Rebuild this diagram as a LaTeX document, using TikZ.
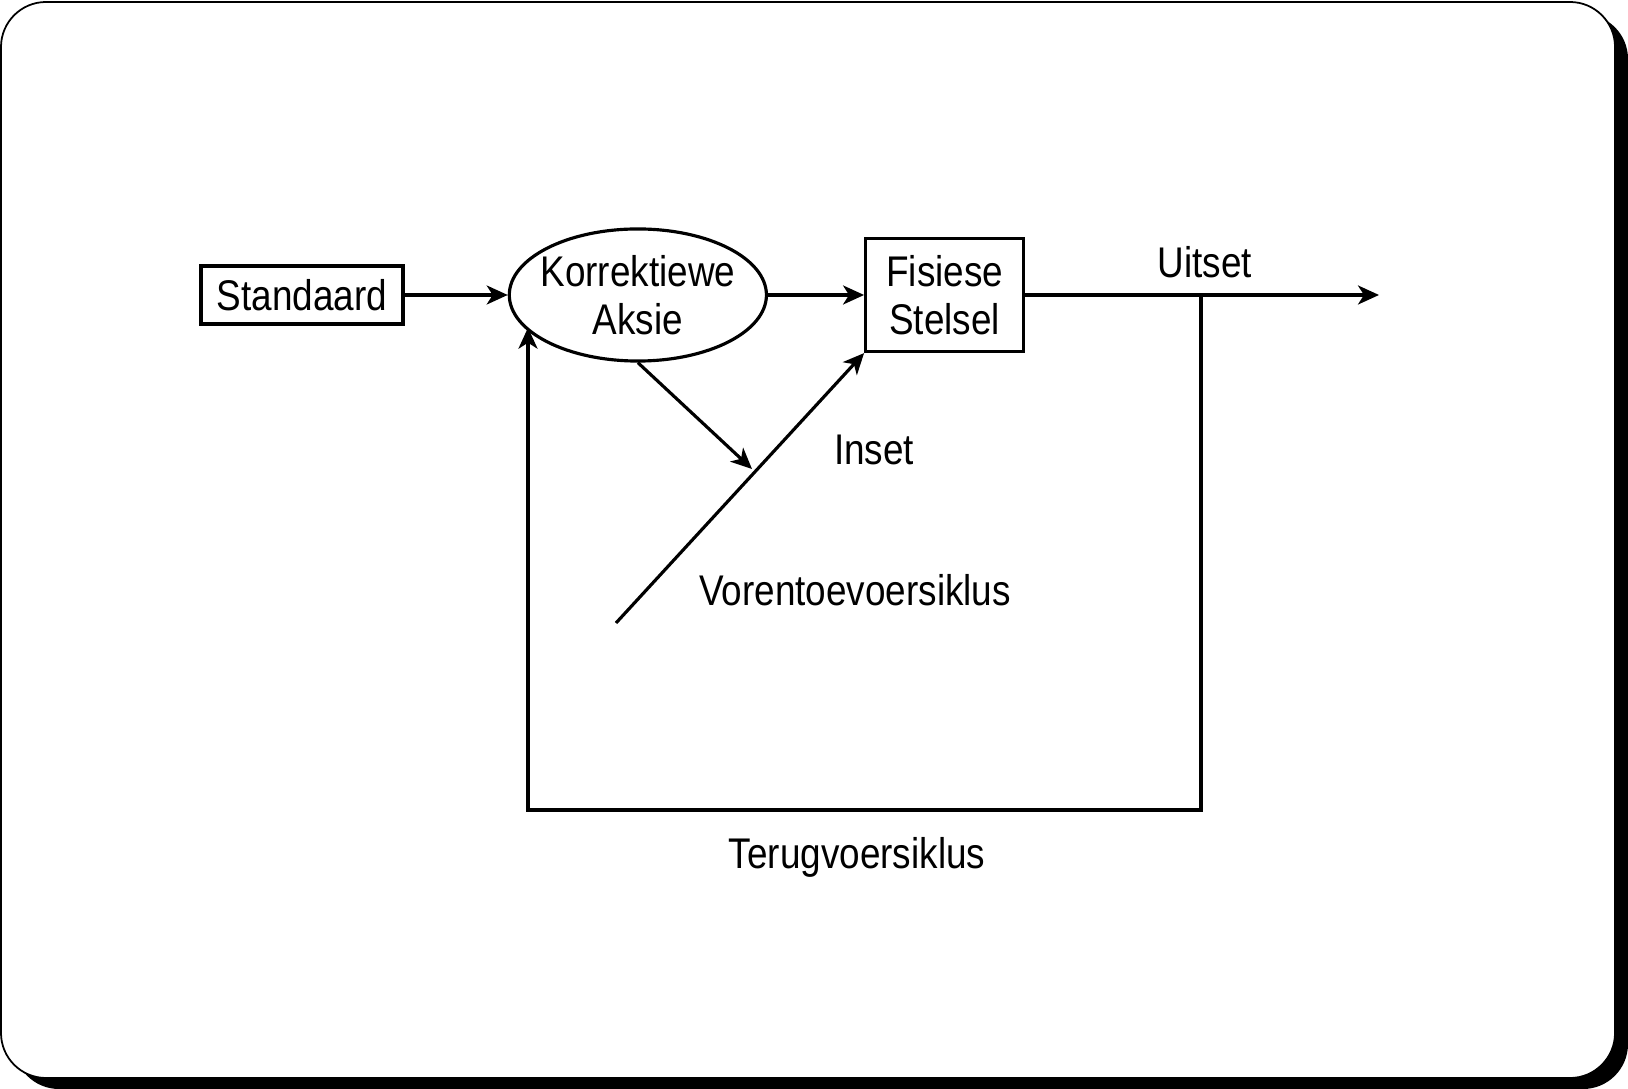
\documentclass[tikz,border=0pt]{standalone}
\usepackage{fontspec}
\setmainfont{Liberation Sans}[FakeStretch=0.86]
\usetikzlibrary{positioning,arrows.meta}
\usetikzlibrary{shapes.geometric}

\begin{document}
\begin{tikzpicture}[x=0.01cm,y=-0.01cm,node distance=1cm,>={Stealth[length=2.1mm,width=1.9mm,inset=0.6mm]},
  every node/.style={font=\fontsize{12.2}{13.8}\selectfont},
  every path/.style={line width=0.9pt},
  blok/.style={draw,inner sep=0pt,align=center}]
  \useasboundingbox (0,0) rectangle (1628,1089);
  % raam
  \fill[black,rounded corners=0.45cm] (14,14) rectangle (1628,1089);
  \filldraw[fill=white,draw=black,line width=0.5pt,rounded corners=0.45cm] (1,2) rectangle (1615,1078);

  \node[blok,minimum width=2.02cm,minimum height=0.58cm] (std) at (302,295) {Standaard};
  \node[blok,ellipse,inner xsep=-0.08cm,inner ysep=0pt,minimum width=2.57cm,minimum height=1.32cm,right=1.03cm of std] (kor) {Korrektiewe\\Aksie};
  \node[blok,minimum width=1.58cm,minimum height=1.13cm,right=0.96cm of kor] (fis) {Fisiese\\Stelsel};
  \coordinate (uit) at (1379,295);
  \coordinate (tap) at (1201,295);
  \coordinate (fbc) at (528,810);
  \coordinate (voor) at (616,623);
  \coordinate (ins) at (752,469);

  \draw[->] (std) -- (kor);
  \draw[->] (kor) -- (fis);
  \draw[->] (fis) -- (uit);
  \draw[->] (tap) |- (fbc) -- (fbc |- kor.196);
  \draw[->] (voor) -- (fis.south west);
  \draw[->] (kor.south) -- (ins);

  \node (uitset) at (1205,262) {Uitset};
  \node (inset) at (874,450) {Inset};
  \node (vorentoe) at (855,590) {Vorentoevoersiklus};
  \node (terug) at (857,857) {Terugvoersiklus};
\end{tikzpicture}
\end{document}
